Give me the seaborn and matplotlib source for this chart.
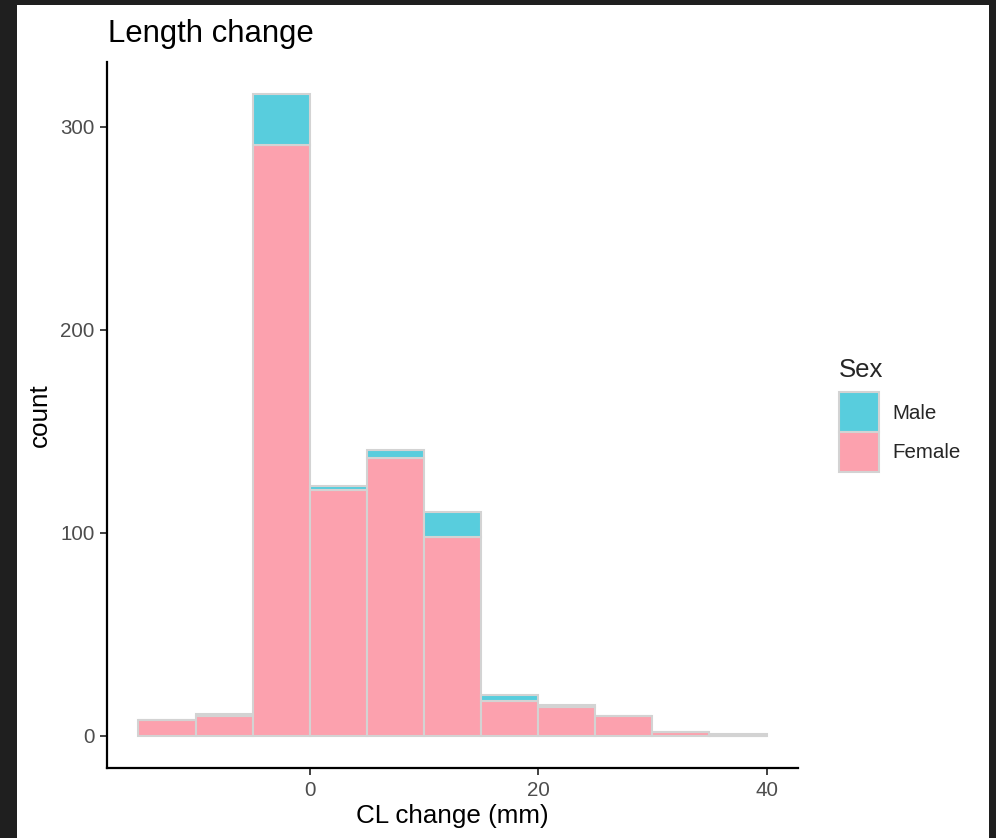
import numpy as np
import pandas as pd
import matplotlib
matplotlib.use("Agg")
import matplotlib.pyplot as plt
import seaborn as sns
from matplotlib.patches import Rectangle

# ---- data ----
bin_edges = [-15, -10, -5, 0, 5, 10, 15, 20, 25, 30, 35, 40]
female_counts = [8, 10, 291, 121, 137, 98, 17, 14, 10, 2, 0]
male_counts = [0, 1, 25, 2, 4, 12, 3, 1, 0, 0, 1]
sex_levels = ["Male", "Female"]
x_ticks = [0, 20, 40]
y_ticks = [0, 100, 200, 300]

centers = [(a + b) / 2 for a, b in zip(bin_edges[:-1], bin_edges[1:])]
df = pd.concat([
    pd.DataFrame({"CL": centers, "n": male_counts, "Sex": "Male"}),
    pd.DataFrame({"CL": centers, "n": female_counts, "Sex": "Female"}),
], ignore_index=True)

sns.set_theme(style="ticks")
plt.rcParams["font.family"] = ["Liberation Sans", "DejaVu Sans"]

W, H = 996, 838
fig = plt.figure(figsize=(W / 100, H / 100), dpi=100, facecolor="#1f1f1f")
bg = Rectangle((17 / W, 0), (989 - 17) / W, (H - 5) / H,
               transform=fig.transFigure, facecolor="white",
               edgecolor="none", zorder=-10)
fig.patches.append(bg)

L, R, T, B = 107, 798, 62, 768
ax = fig.add_axes([L / W, 1 - B / H, (R - L) / W, (B - T) / H])
ax.set_facecolor("white")
ax.set_zorder(1)

palette = {"Male": "#58CDDD", "Female": "#FCA1AE"}
sns.histplot(data=df, x="CL", weights="n", hue="Sex", hue_order=sex_levels,
             multiple="stack", bins=bin_edges, palette=palette, alpha=1,
             edgecolor="#D3D3D3", linewidth=1.5, ax=ax)

ax.set_xlim(-17.75, 42.75)
ax.set_ylim(-15.8, 331.8)
ax.set_xticks(x_ticks)
ax.set_yticks(y_ticks)
for s in ["top", "right"]:
    ax.spines[s].set_visible(False)
for s in ["left", "bottom"]:
    ax.spines[s].set_linewidth(1.6)
    ax.spines[s].set_color("black")
ax.tick_params(axis="both", length=5, width=1.3, color="#333333",
               labelsize=14.8, labelcolor="#4D4D4D", pad=4)

ax.set_xlabel("CL change (mm)", fontsize=18.7, color="black")
ax.set_ylabel("count", fontsize=18.7, color="black")
ax.xaxis.label.set_va("baseline")
ax.xaxis.set_label_coords(0.5, (B - 823) / (B - T))
ax.yaxis.set_label_coords((52 - L) / (R - L), 0.5)

fig.text(108 / W, 1 - 42 / H, "Length change", fontsize=22.4,
         ha="left", va="baseline", color="black", zorder=5)

sns.move_legend(ax, loc="upper left", bbox_to_anchor=(839 / W, 1 - 358 / H),
                bbox_transform=fig.transFigure, frameon=False,
                title="Sex", fontsize=14.8, title_fontsize=18.5,
                handlelength=1.96, handleheight=2.61, labelspacing=0,
                handletextpad=0.63, borderpad=0, borderaxespad=0)
leg = ax.get_legend()
leg._legend_box.align = "left"
leg._legend_box.sep = 7.5
for h in leg.legend_handles:
    h.set_edgecolor("#D3D3D3")
    h.set_linewidth(1.5)

fig.savefig("out.png", dpi=100, facecolor=fig.get_facecolor())
